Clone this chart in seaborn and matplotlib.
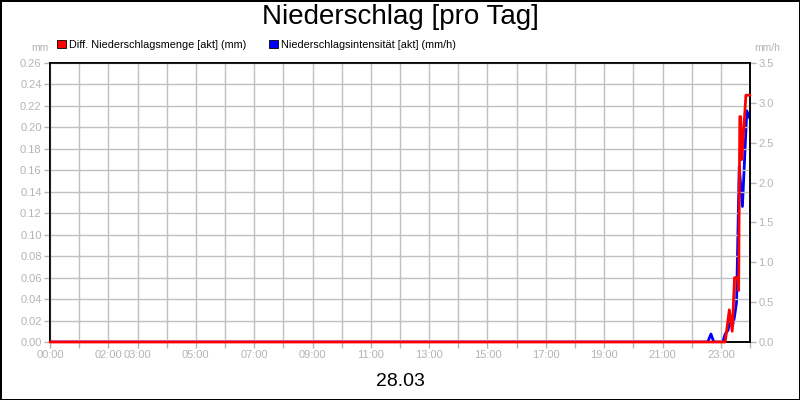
import numpy as np
import pandas as pd
import seaborn as sns
import matplotlib.pyplot as plt
from matplotlib.patches import Patch
from matplotlib.ticker import FixedLocator, MultipleLocator, FormatStrFormatter

# (hours since 00:00)
menge_hours = [0.0, 23.15, 23.29, 23.39, 23.47, 23.57, 23.61, 23.65, 23.68, 23.72, 23.86, 24.0]
menge_mm = [0.0, 0.0, 0.03, 0.01, 0.06, 0.06, 0.048, 0.21, 0.21, 0.17, 0.23, 0.23]

intens_hours = [0.0, 22.55, 22.66, 22.76, 23.06, 23.15, 23.25, 23.32, 23.40, 23.46, 23.54, 23.63, 23.74, 23.89, 24.0]
intens_mmh = [0.0, 0.0, 0.1, 0.0, 0.0, 0.1, 0.15, 0.3, 0.2, 0.3, 0.5, 2.2, 1.7, 2.9, 2.8]

tick_hours = [0, 2, 3, 5, 7, 9, 11, 13, 15, 17, 19, 21, 23]
tick_labels = [f"{h:02d}:00" for h in tick_hours]

menge = pd.DataFrame({'t': menge_hours, 'v': menge_mm})
intens = pd.DataFrame({'t': intens_hours, 'v': intens_mmh})

sns.set_style('white')
plt.rcParams['font.family'] = ['Liberation Sans', 'DejaVu Sans']
plt.rcParams['text.color'] = 'black'

grey = '#b4b4b4'
fig = plt.figure(figsize=(8, 4), dpi=100)
fig.patch.set_edgecolor('black')
fig.patch.set_linewidth(2)
ax = fig.add_axes([50 / 800, 58 / 400, 700 / 800, 279 / 400])
ax2 = ax.twinx()

sns.lineplot(data=intens, x='t', y='v', ax=ax2, color='#0000ff', linewidth=2)
sns.lineplot(data=menge, x='t', y='v', ax=ax, color='#ff0000', linewidth=2)
ax.set_zorder(ax2.get_zorder() + 1)
ax.patch.set_visible(False)
# red line sits on top of the bottom spine like in the original
for ln in ax.get_lines():
    ln.set_zorder(5)
    ln.set_clip_on(False)

ax.set_xlim(0, 24)
ax.set_ylim(0, 0.26)
ax2.set_ylim(0, 3.5)
ax.xaxis.set_major_locator(FixedLocator(tick_hours))
ax.set_xticklabels(tick_labels)
ax.xaxis.set_minor_locator(MultipleLocator(1))
ax.yaxis.set_major_locator(MultipleLocator(0.02))
ax.yaxis.set_major_formatter(FormatStrFormatter('%.2f'))
ax2.yaxis.set_major_locator(MultipleLocator(0.5))
ax2.yaxis.set_major_formatter(FormatStrFormatter('%.1f'))

ax.grid(True, which='both', axis='x', color='#c0c0c0', linewidth=1)
ax.grid(True, which='major', axis='y', color='#c0c0c0', linewidth=1)
ax.set_axisbelow(True)

for a in (ax, ax2):
    a.set_xlabel('')
    a.set_ylabel('')
    for s in a.spines.values():
        s.set_color('black')
        s.set_linewidth(1.2)
ax.tick_params(axis='both', which='both', direction='out', length=4, color=grey,
               labelcolor=grey, labelsize=8, width=1, bottom=True, left=True, pad=2)
ax2.tick_params(axis='y', direction='out', length=4, color=grey,
                labelcolor=grey, labelsize=8, width=1, right=True, pad=2)

fig.text(0.5, 1 - 17 / 400, 'Niederschlag [pro Tag]', ha='center', va='center', fontsize=20)
fig.text(0.5, 1 - 381 / 400, '28.03', ha='center', va='center', fontsize=14)
fig.text(40 / 800, 1 - 48 / 400, 'mm', ha='center', va='center', fontsize=7.5, color=grey)
fig.text(767 / 800, 1 - 48 / 400, 'mm/h', ha='center', va='center', fontsize=7.5, color=grey)

handles = [Patch(facecolor='#ff0000', edgecolor='black', linewidth=0.6),
           Patch(facecolor='#0000ff', edgecolor='black', linewidth=0.6)]
fig.legend(handles, ['Diff. Niederschlagsmenge [akt] (mm)', 'Niederschlagsintensität [akt] (mm/h)'],
           loc='center left', bbox_to_anchor=(57 / 800, 1 - 45 / 400), ncol=2, frameon=False,
           fontsize=7.8, handlelength=0.8, handleheight=0.8, handletextpad=0.3,
           columnspacing=2.1, borderaxespad=0, borderpad=0)

fig.savefig('out.png', dpi=100)
